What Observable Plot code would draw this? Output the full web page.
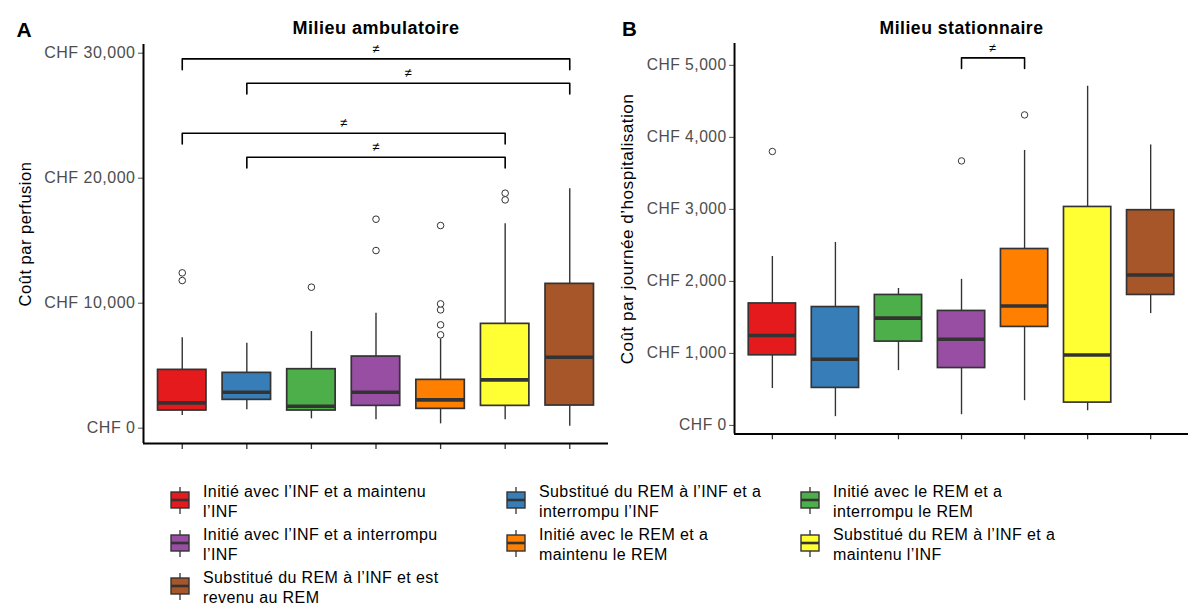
<!DOCTYPE html>
<html><head><meta charset="utf-8">
<script src="https://cdn.jsdelivr.net/npm/d3@7"></script>
<script src="https://cdn.jsdelivr.net/npm/@observablehq/plot@0.6"></script>
<style>
html,body{margin:0;padding:0;background:#fff;}
#wrap{position:relative;width:1189px;height:603px;overflow:hidden;font-family:"Liberation Sans",Arial,sans-serif;}
#left{position:absolute;left:0;top:0;}
#right{position:absolute;left:600px;top:0;}
.leg{position:absolute;display:flex;align-items:flex-start;}
.leg .lab{font-size:16px;line-height:20px;color:#000;letter-spacing:0.4px;}
</style></head>
<body><div id="wrap"><div id="left"></div><div id="right"></div><div id="legend"></div></div>
<script>
// ---- data ----
const groups = [
  "Initié avec l’INF et a maintenu l’INF",
  "Substitué du REM à l’INF et a interrompu l’INF",
  "Initié avec le REM et a interrompu le REM",
  "Initié avec l’INF et a interrompu l’INF",
  "Initié avec le REM et a maintenu le REM",
  "Substitué du REM à l’INF et a maintenu l’INF",
  "Substitué du REM à l’INF et est revenu au REM"
];
const colors = ["#E41A1C","#377EB8","#4DAF4A","#984EA3","#FF7F00","#FFFF33","#A65628"];

// Milieu ambulatoire (coût par perfusion)
const ambLow  = [1013, 1467,  747,  667,  347,   667,   160];
const ambQ1   = [1413, 2267, 1413, 1787, 1547,  1787,  1813];
const ambMed  = [2027, 2880, 1760, 2880, 2267,  3867,  5680];
const ambQ3   = [4667, 4427, 4720, 5733, 3867,  8347, 11547];
const ambHigh = [7227, 6800, 7733, 9200, 7147, 16347, 19147];
const ambOutliers = [[0,12427],[0,11813],[2,11280],[3,14213],[3,16720],[4,7467],[4,8267],[4,9467],[4,9947],[4,16213],[5,18267],[5,18800]];
const ambBrackets = [{from:0,to:6,y:29547},{from:1,to:6,y:27600},{from:0,to:5,y:23600},{from:1,to:5,y:21680}];
const ambTicks = [0, 10000, 20000, 30000];

// Milieu stationnaire (coût par journée d'hospitalisation)
const statLow  = [ 512,  122,  761,  149,  344,  204, 1553];
const statQ1   = [ 974,  521, 1164,  797, 1368,  317, 1812];
const statMed  = [1250,  919, 1490, 1196, 1658,  978, 2088];
const statQ3   = [1694, 1644, 1812, 1590, 2450, 3034, 2989];
const statHigh = [2346, 2541, 1902, 2029, 3818, 4710, 3895];
const statOutliers = [[0,3804],[3,3673],[4,4312]];
const statBrackets = [{from:3,to:4,y:5104}];
const statTicks = [0, 1000, 2000, 3000, 4000, 5000];

const fmt = d => "CHF " + d3.format(",")(d);

function panel(o) {
  const n = groups.length;
  const rows = groups.map((g, i) => ({g, x: i + 1, low: o.low[i], q1: o.q1[i], med: o.med[i], q3: o.q3[i], high: o.high[i], color: colors[i]}));
  const tip = (o.domain[1] - o.domain[0]) * 0.027;
  const pts = o.brackets.flatMap((b, k) => [
    {k, x: b.from + 1, y: b.y - tip}, {k, x: b.from + 1, y: b.y},
    {k, x: b.to + 1, y: b.y}, {k, x: b.to + 1, y: b.y - tip}
  ]);
  return Plot.plot({
    width: o.width, height: 460,
    marginTop: 44, marginBottom: 17, marginLeft: o.marginLeft, marginRight: o.marginRight,
    x: {domain: [0.4, n + 0.6], axis: null},
    y: {domain: o.domain, axis: null},
    style: {fontFamily: "Liberation Sans, Arial, sans-serif", background: "transparent", overflow: "visible", letterSpacing: "0.5px"},
    marks: [
      Plot.ruleX(rows, {x: "x", y1: "low", y2: "high", stroke: "#333", strokeWidth: 1.4}),
      Plot.rect(rows, {x1: d => d.x - 0.375, x2: d => d.x + 0.375, y1: "q1", y2: "q3", fill: "color", stroke: "#333", strokeWidth: 1.7}),
      Plot.ruleY(rows, {x1: d => d.x - 0.375, x2: d => d.x + 0.375, y: "med", stroke: "#333", strokeWidth: 3.6}),
      Plot.dot(o.outliers, {x: d => d[0] + 1, y: d => d[1], r: 3.3, stroke: "#333", fill: "white", strokeWidth: 1}),
      Plot.line(pts, {x: "x", y: "y", z: "k", stroke: "black", strokeWidth: 1.6}),
      Plot.text(o.brackets, {x: d => (d.from + d.to) / 2 + 1, y: "y", text: () => "≠", dy: -10, fontSize: 13, fill: "black"}),
      Plot.axisY({ticks: o.ticks, tickFormat: fmt, tickSize: 5, tickPadding: 3, color: "#4d4d4d", label: null, fontSize: 16}),
      Plot.axisX({ticks: d3.range(1, n + 1), tickSize: 6, tickFormat: () => "", label: null, stroke: "#333", strokeWidth: 1.3}),
      Plot.ruleX([0.4], {stroke: "black", strokeWidth: 2}),
      Plot.ruleY([o.domain[0]], {stroke: "black", strokeWidth: 2}),
      Plot.text([o.title], {frameAnchor: "top", dy: -16, lineAnchor: "middle", fontWeight: "bold", fontSize: 18, fill: "black"}),
      Plot.text([o.ylabel], {frameAnchor: "left", dx: o.labelDx, dy: -10, rotate: -90, textAnchor: "middle", lineAnchor: "middle", fontSize: o.labelSize, fill: "black"}),
      Plot.text([o.letter], {frameAnchor: "top-left", dx: o.letterDx, dy: -14, textAnchor: "start", lineAnchor: "middle", fontWeight: "bold", fontSize: 21, fill: "black"})
    ]
  });
}

document.getElementById("left").append(panel({
  low: ambLow, q1: ambQ1, med: ambMed, q3: ambQ3, high: ambHigh,
  outliers: ambOutliers, brackets: ambBrackets, ticks: ambTicks,
  domain: [-1224, 30696], width: 610, marginLeft: 143, marginRight: 2,
  title: "Milieu ambulatoire", ylabel: "Coût par perfusion", labelDx: -118, labelSize: 16.5, letter: "A", letterDx: -127
}));
document.getElementById("right").append(panel({
  low: statLow, q1: statQ1, med: statMed, q3: statQ3, high: statHigh,
  outliers: statOutliers, brackets: statBrackets, ticks: statTicks,
  domain: [-118, 5303], width: 602, marginLeft: 137, marginRight: 1,
  title: "Milieu stationnaire", ylabel: "Coût par journée d’hospitalisation", labelDx: -109, labelSize: 17.5, letter: "B", letterDx: -115
}));

// ---- legend ----
const colX = [170, 506, 800];
const colW = [250, 236, 236];
const rowY = [486, 529, 572];
const legend = d3.select("#legend");
groups.forEach((g, i) => {
  const c = i % 3, r = Math.floor(i / 3);
  const item = legend.append("div").attr("class", "leg")
    .style("left", colX[c] + "px").style("top", rowY[r] + "px");
  const svg = item.append("svg").attr("width", 24).attr("height", 30).style("flex", "none");
  svg.append("line").attr("x1", 10).attr("x2", 10).attr("y1", 1).attr("y2", 28).attr("stroke", "#333").attr("stroke-width", 1.3);
  svg.append("rect").attr("x", 1).attr("y", 6).attr("width", 18).attr("height", 16).attr("fill", colors[i]).attr("stroke", "#333").attr("stroke-width", 1.4);
  svg.append("line").attr("x1", 1).attr("x2", 19).attr("y1", 14).attr("y2", 14).attr("stroke", "#333").attr("stroke-width", 2.6);
  item.append("div").attr("class", "lab").style("width", colW[c] + "px").style("margin-left", "9px").style("margin-top", "-4px").text(g);
});
</script></body></html>
